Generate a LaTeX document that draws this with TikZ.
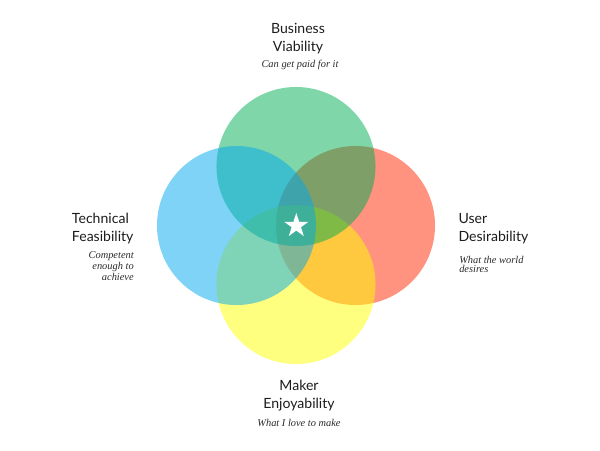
\documentclass[tikz,border=0pt]{standalone}
\usepackage{fontspec}
\setsansfont{Lato}
\newfontfamily\notefont{Liberation Serif}
\usetikzlibrary{shapes.geometric}
\definecolor{bizgreen}{RGB}{0,173,81}
\definecolor{techblue}{RGB}{0,167,239}
\definecolor{userred}{RGB}{255,40,0}
\definecolor{makeryellow}{RGB}{255,255,0}
\definecolor{ink}{HTML}{1C1C1C}
\definecolor{inkgray}{HTML}{2A2A2A}
\tikzset{
  venncircle/.style={
    circle, inner sep=0pt, minimum size=3.975cm,
    fill opacity=0.5
  },
  headline/.style={
    inner sep=0pt, text=ink,
    font=\sffamily\fontsize{10}{12.8}\selectfont
  },
  subline/.style={
    inner sep=0pt, text=inkgray,
    font=\notefont\itshape\fontsize{7.4}{6.7}\selectfont
  },
  sweetspot/.style={
    star, star points=5, star point ratio=2.618,
    fill=white, inner sep=0pt, minimum size=0.64cm
  }
}

\begin{document}
\begin{tikzpicture}[x=0.025cm,y=-0.025cm]
  \useasboundingbox (0,0) rectangle (600,450);

  % the four circles
  \node[venncircle, fill=userred] (user) at (355.5,225.5) {};
  \node[venncircle, fill=makeryellow] (maker) at (296,284.5) {};
  \node[venncircle, fill=bizgreen] (biz) at (296,166.5) {};
  \node[venncircle, fill=techblue] (tech) at (236.5,225.5) {};
  \node[sweetspot] (core) at (296.3,225.7) {};

  % labels (base = last line)
  \node[headline, align=center, anchor=base] (biztitle) at (298,51.5) {Business\\Viability};
  \node[subline, anchor=base] (biznote) at (300,67) {Can get paid for it};

  \node[headline, align=left, anchor=base west] (techtitle) at (71.7,241.5) {Technical\\Feasibility};
  \node[subline, align=right, anchor=base east] (technote) at (134,280) {Competent\\enough to\\achieve};

  \node[headline, align=left, anchor=base west] (usertitle) at (458.3,241.7) {User\\Desirability};
  \node[subline, align=left, anchor=base west] (usernote) at (459,272.5) {What the world\\desires};

  \node[headline, align=center, anchor=base] (makertitle) at (299,408.5) {Maker\\Enjoyability};
  \node[subline, anchor=base] (makernote) at (299,426) {What I love to make};
\end{tikzpicture}
\end{document}
